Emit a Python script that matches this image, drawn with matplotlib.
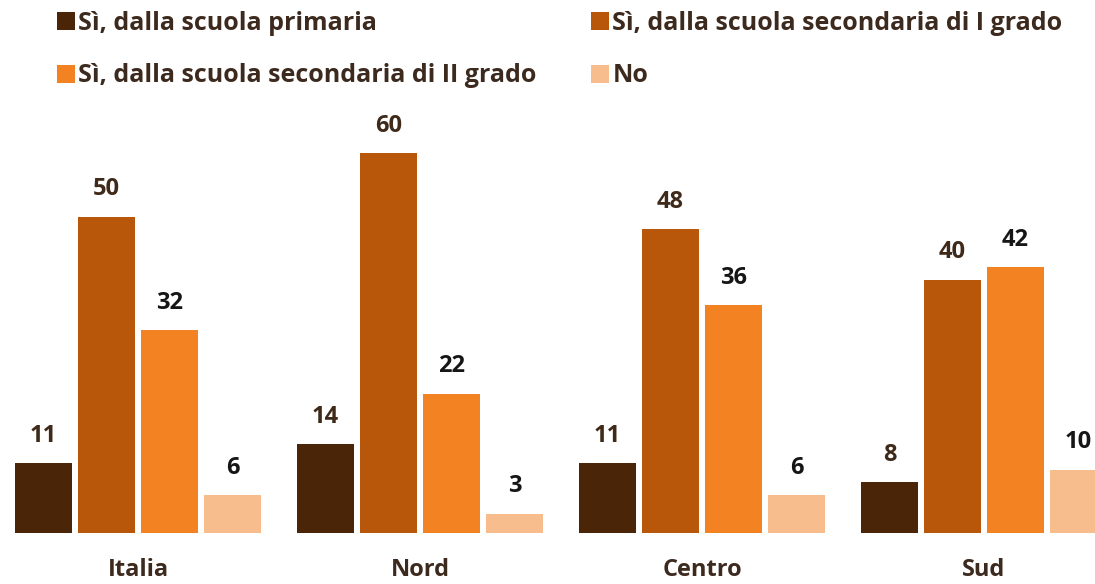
import matplotlib.pyplot as plt
import numpy as np
from matplotlib.patches import Patch

plt.rcParams['font.family'] = ['Open Sans', 'DejaVu Sans']

regions = ['Italia', 'Nord', 'Centro', 'Sud']
series_names = ['Sì, dalla scuola primaria',
                'Sì, dalla scuola secondaria di I grado',
                'Sì, dalla scuola secondaria di II grado',
                'No']
primaria = [11, 14, 11, 8]
secondaria_1 = [50, 60, 48, 40]
secondaria_2 = [32, 22, 36, 42]
no = [6, 3, 6, 10]

colors = ['#4b2507', '#b85609', '#f38223', '#f8bd8d']
label_colors = ['#3f2a1a', '#3f2a1a', '#161616', '#161616']

values = [primaria, secondaria_1, secondaria_2, no]

fig = plt.figure(figsize=(10.95, 5.84), dpi=100)
ax = fig.add_axes([0, 51 / 584, 1, 443 / 584])

group_gap = 282 / 63
centers = np.arange(len(regions)) * group_gap
offsets = np.array([-1.5, -0.5, 0.5, 1.5])

for k, vals in enumerate(values):
    xs = centers + offsets[k]
    ax.bar(xs, vals, width=0.905, color=colors[k])
    for x, v in zip(xs, vals):
        ax.annotate(str(v), (x, v), xytext=(0, 15.5), textcoords='offset points',
                    ha='center', va='baseline', fontsize=17, fontweight='bold',
                    color=label_colors[k])

ax.set_xlim(-138 / 63, -138 / 63 + 1095 / 63)
ax.set_ylim(0, 70)
ax.set_xticks(centers)
ax.set_xticklabels(regions, fontsize=17, fontweight='bold', color='#3d2a1e')
ax.tick_params(axis='x', length=0, pad=18)
ax.set_yticks([])
for s in ax.spines.values():
    s.set_visible(False)

# legend: two columns, filled column by column
order = [0, 2, 1, 3]
leg_handles = [Patch(facecolor=colors[i]) for i in order]
leg_labels = [series_names[i] for i in order]
fig.legend(leg_handles, leg_labels, ncol=2, frameon=False,
           loc='upper left', bbox_to_anchor=(57 / 1095, 1 - 11 / 584),
           prop={'size': 18, 'weight': 'bold'}, labelcolor='#3d2a1e',
           handlelength=0.72, handleheight=0.72, handletextpad=0.12,
           labelspacing=1.1, columnspacing=2.2, borderaxespad=0,
           borderpad=0)

fig.savefig('out.png', dpi=100)
